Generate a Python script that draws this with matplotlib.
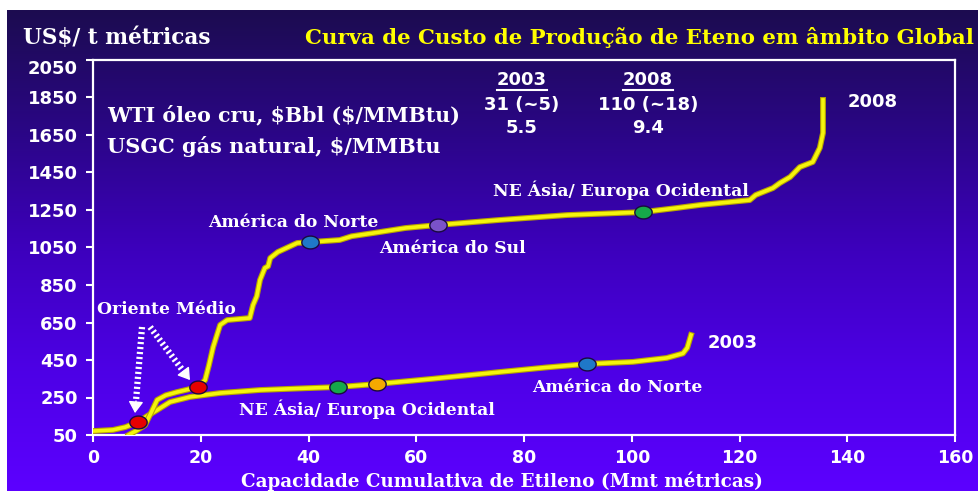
import numpy as np
import matplotlib

matplotlib.use("Agg")
import matplotlib.pyplot as plt
from matplotlib.colors import LinearSegmentedColormap
from matplotlib.lines import Line2D
from matplotlib.path import Path
import matplotlib.patheffects as pe

# ---- dados ----
cap_2003 = [0, 3.7, 6.0, 8.35, 10.0, 11.9, 14.3, 18.0, 23.6, 31.0, 38.0, 45.5,
            52.7, 63.1, 75.5, 84.0, 91.7, 100.2, 106.5, 109.5, 110.3, 111.0]
custo_2003 = [71, 77, 92, 119, 150, 183, 226, 253, 274, 290, 298, 306,
              322, 350, 386, 410, 429, 440, 461, 485, 515, 583]

cap_2008 = [6.6, 8.0, 9.65, 10.8, 11.9, 13.5, 15.6, 17.5, 19.5, 20.8, 21.5, 22.3,
            23.6, 24.9, 29.1, 29.7, 30.4, 31.0, 31.9, 32.5, 32.9, 34.3, 37.9,
            40.3, 45.8, 48.0, 52.0, 58.0, 64.0, 75.5, 88.0, 102.1, 108.4,
            112.7, 121.9, 123.0, 126.2, 127.5, 129.4, 131.2, 133.6, 134.9,
            135.5, 135.5]
custo_2008 = [50, 72, 103, 170, 237, 262, 279, 292, 306, 343, 420, 519,
              637, 663, 674, 743, 790, 877, 941, 950, 994, 1026, 1074,
              1079, 1090, 1110, 1127, 1154, 1170, 1197, 1223, 1239, 1261,
              1277, 1303, 1330, 1367, 1394, 1426, 1479, 1506, 1581, 1661, 1837]

# pontos regionais
pontos_x = [8.35, 19.5, 40.3, 64.0, 102.1, 45.5, 52.7, 91.7]
pontos_y = [119, 306, 1079, 1170, 1239, 306, 322, 429]
pontos_cor = ["#e60000", "#e60000", "#1f78c8", "#7a52c9", "#16a84a",
              "#16a84a", "#f4a900", "#1f78c8"]

x_ticks = list(range(0, 161, 20))
y_ticks = list(range(50, 2051, 200))

# ---- estilo ----
AMARELO = "#f5f50c"
BRANCO = "white"
SERIF = "DejaVu Serif"
SANS = "DejaVu Sans"

fig = plt.figure(figsize=(9.79, 4.91), dpi=100, facecolor="white")

# fundo em degradê (slide)
bg = fig.add_axes([7 / 979, 0, 1 - 7 / 979, 481 / 491], zorder=0)
cmap = LinearSegmentedColormap.from_list(
    "slide", ["#1c0c50", "#2a0685", "#3d00bd", "#4d00e6", "#5c00ff"])
bg.imshow(np.linspace(0, 1, 256)[:, None], aspect="auto", cmap=cmap,
          extent=[0, 1, 0, 1], origin="upper")
bg.axis("off")

ax = fig.add_axes([93 / 979, 56 / 491, 862 / 979, 375 / 491], zorder=1)
ax.patch.set_alpha(0)
ax.set_xlim(0, 160)
ax.set_ylim(50, 2050)
ax.set_xticks(x_ticks)
ax.set_yticks(y_ticks)
for s in ax.spines.values():
    s.set_color(BRANCO)
    s.set_linewidth(1.6)
ax.tick_params(colors=BRANCO, direction="out", length=5, width=1.5)
ax.tick_params(axis="y", pad=6, labelsize=13)
ax.tick_params(axis="x", pad=5, labelsize=12.5)
for lab in ax.get_xticklabels() + ax.get_yticklabels():
    lab.set_fontweight("bold")
    lab.set_family(SANS)
ax.get_yticklabels()[-1].set_va("top")

linha_fx = [pe.Stroke(linewidth=4.2, foreground="#b8a400"), pe.Normal()]
ax.plot(cap_2003, custo_2003, color=AMARELO, lw=2.6, path_effects=linha_fx,
        solid_joinstyle="round", zorder=3)
ax.plot(cap_2008, custo_2008, color=AMARELO, lw=2.6, path_effects=linha_fx,
        solid_joinstyle="round", zorder=3)

t = np.linspace(0, 2 * np.pi, 60)
elipse = Path(np.column_stack([1.35 * np.cos(t), np.sin(t)]))
for x, y, c in zip(pontos_x, pontos_y, pontos_cor):
    ax.plot(x, y, marker=elipse, ms=12.5, color=c, mec="#1a0a40", mew=1,
            zorder=4)

# setas pontilhadas "Oriente Médio"
setas = [((9.1, 626), (7.8, 167)), ((10.6, 626), (18.0, 343))]
for (x0, y0), (x1, y1) in setas:
    xm = x0 + 0.86 * (x1 - x0)
    ym = y0 + 0.86 * (y1 - y0)
    ax.plot([x0, xm], [y0, ym], color=BRANCO, lw=4.5,
            linestyle=(0, (0.35, 0.45)), dash_capstyle="butt", zorder=5)
    ax.annotate("", xy=(x1, y1), xytext=(xm, ym), zorder=5,
                arrowprops=dict(arrowstyle="-|>,head_length=0.7,head_width=0.45",
                                color=BRANCO, lw=1, shrinkA=0, shrinkB=0))

rot = dict(color=BRANCO, fontweight="bold", family=SERIF, fontsize=12.3,
           ha="center", va="center", zorder=6)
ax.text(13.7, 717, "Oriente Médio", **rot)
ax.text(37.1, 1181, "América do Norte", **rot)
ax.text(66.8, 1042, "América do Sul", **rot)
ax.text(98.0, 1357, "NE Ásia/ Europa Ocidental", **rot)
ax.text(50.8, 189, "NE Ásia/ Europa Ocidental", **rot)
ax.text(97.4, 306, "América do Norte", **rot)

num = dict(color=BRANCO, fontweight="bold", family=SANS, fontsize=13,
           va="center", zorder=6)
ax.text(140.1, 1826, "2008", ha="left", **num)
ax.text(114.1, 541, "2003", ha="left", **num)
h03 = ax.text(79.6, 1943, "2003", ha="center", **num)
h08 = ax.text(103.0, 1943, "2008", ha="center", **num)
ax.text(79.6, 1810, "31 (~5)", ha="center", **num)
ax.text(103.0, 1810, "110 (~18)", ha="center", **num)
ax.text(79.6, 1687, "5.5", ha="center", **num)
ax.text(103.0, 1687, "9.4", ha="center", **num)

ax.text(2.6, 1757, "WTI óleo cru, $Bbl ($/MMBtu)", color=BRANCO,
        fontweight="bold", family=SERIF, fontsize=14.8, va="center",
        parse_math=False)
ax.text(2.6, 1586, "USGC gás natural, $/MMBtu", color=BRANCO,
        fontweight="bold", family=SERIF, fontsize=15, va="center",
        parse_math=False)

fig.text(23 / 979, 1 - 38 / 491, "US$/ t métricas", color=BRANCO,
         fontweight="bold", family=SERIF, fontsize=15.6, va="center",
         parse_math=False)
fig.text(305 / 979, 1 - 38 / 491,
         "Curva de Custo de Produção de Eteno em âmbito Global",
         color="#ffff00", fontweight="bold", family=SERIF, fontsize=15.3,
         va="center")
fig.text(502 / 979, 0.0, "Capacidade Cumulativa de Etileno (Mmt métricas)",
         color=BRANCO, fontweight="bold", family=SERIF, fontsize=13.2,
         ha="center", va="bottom")

# sublinhado dos cabeçalhos 2003 / 2008
fig.canvas.draw()
r = fig.canvas.get_renderer()
for h in (h03, h08):
    bb = h.get_window_extent(r)
    fig.add_artist(Line2D([bb.x0, bb.x1], [bb.y0 - 1, bb.y0 - 1],
                          transform=None, color=BRANCO, lw=1.5, zorder=6))

fig.savefig("out.png", dpi=100, facecolor=fig.get_facecolor())
